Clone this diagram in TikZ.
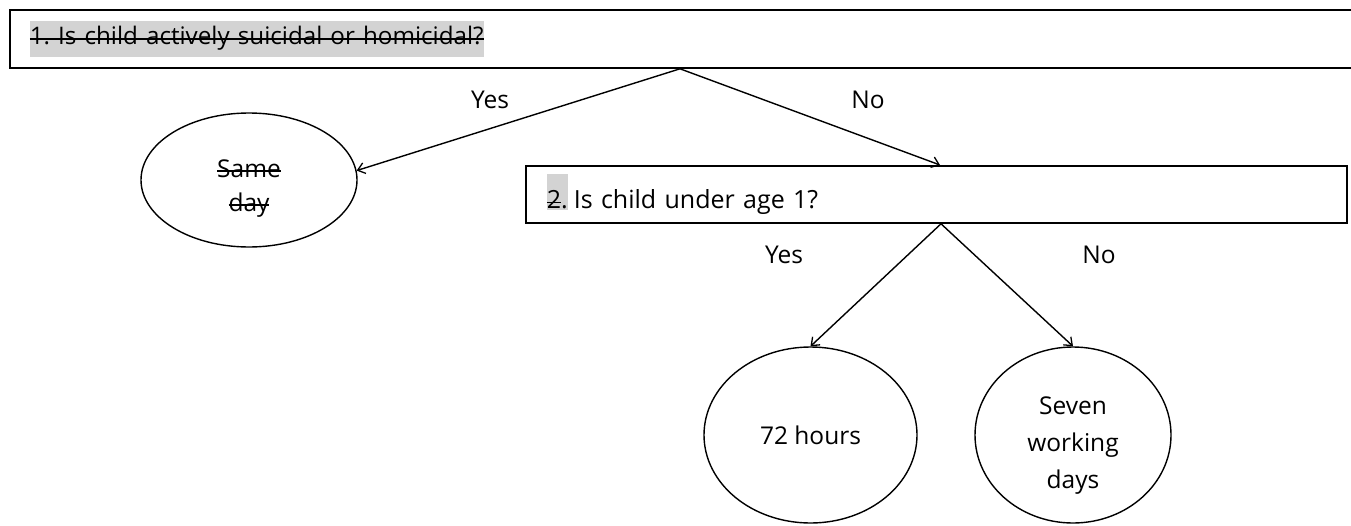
\documentclass[tikz,border=0pt]{standalone}
\usepackage{fontspec}
\setmainfont{Open Sans}
\usetikzlibrary{shapes.geometric,calc,arrows.meta}
\definecolor{hl}{RGB}{211,211,211}
\newcommand{\hlbox}[3]{{\setlength{\fboxsep}{0pt}\colorbox{hl}{\rule[-#1]{0pt}{#2}#3}}}
\newcommand{\strk}[1]{\setbox0\hbox{#1}\rlap{\rule[0.22em]{\wd0}{1.2pt}}\box0}
\frenchspacing
\begin{document}
\begin{tikzpicture}[x=1pt,y=-1pt,
  conn/.style={-{Straight Barb[length=7pt,width=11pt,line width=1.3pt]}, line width=1.4pt},
  qbox/.style={draw, rectangle, line width=1.8pt, inner ysep=0pt, align=left, anchor=north west},
  oval/.style={draw, ellipse, inner sep=0pt, align=center, line width=1.4pt, font=\fontsize{24.5}{37}\selectfont},
  lbl/.style={font=\fontsize{24.5}{28}\selectfont, inner sep=0pt}]
\useasboundingbox (0,0) rectangle (1351,525);
% question boxes
\node[qbox, minimum height=58pt, inner xsep=20pt, text width=1313pt,
      font=\fontsize{24.2}{28}\selectfont] (q1) at (9,9)
  {\hlbox{12pt}{36pt}{\strk{1. Is child actively suicidal or homicidal?}}};
\node[qbox, minimum height=57pt, inner xsep=21pt, text width=779pt,
      font=\fontsize{25}{28}\selectfont] (q2) at (525,165)
  {\hlbox{2pt}{36pt}{\strk{2}.}\hspace{6pt}Is child under age 1?};
% outcomes
\node[oval, minimum width=216pt, minimum height=134pt, font=\fontsize{24.5}{34}\selectfont] (same) at (249,180)
  {\rule{0pt}{34pt}\strk{Same}\\\strk{day}};
\node[oval, minimum width=213pt, minimum height=176pt] (h72) at (810.5,435)
  {72 hours};
\node[oval, minimum width=196pt, minimum height=176pt] (seven) at (1073,435)
  {\rule{0pt}{38pt}Seven\\working\\days};
% connector ends
\coordinate (q1o) at ($(q1.south west)+(671,0)$);
\coordinate (q2i) at ($(q2.north west)+(415,0)$);
\coordinate (q2o) at ($(q2.south west)+(416,0)$);
% connectors
\draw[conn] (q1o) -- (same.5);
\draw[conn] (q1o) -- (q2i);
\draw[conn] (q2o) -- (h72.north);
\draw[conn] (q2o) -- (seven.north);
% labels
\node[lbl] (y1) at (490,100) {Yes};
\node[lbl] (n1) at (868,100) {No};
\node[lbl] (y2) at (784,255) {Yes};
\node[lbl] (n2) at (1099,255) {No};
\end{tikzpicture}
\end{document}
